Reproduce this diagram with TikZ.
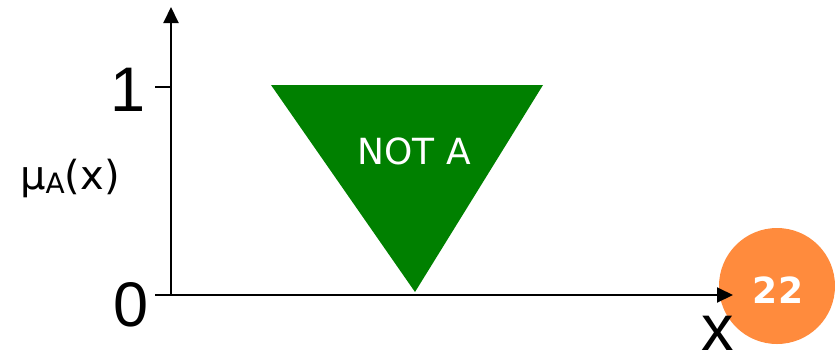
\documentclass[tikz,border=0pt]{standalone}
\usepackage{fontspec}
\setmainfont{Liberation Sans}
\newfontfamily\dejavu{DejaVu Sans}
\usetikzlibrary{arrows.meta}
\definecolor{notagreen}{RGB}{0,128,0}
\definecolor{badgeorange}{RGB}{255,139,61}
\begin{document}
\begin{tikzpicture}[x=1pt,y=-1pt,
  axis/.style={line width=2pt,draw=black},
  axisarrow/.style={axis,-{Triangle[length=16pt,width=15pt]}},
  ticklab/.style={inner sep=0pt,font=\fontsize{63}{63}\selectfont},
  whitelab/.style={inner sep=0pt,text=white}]
\useasboundingbox (0,0) rectangle (835,354);
% badge
\node[circle,fill=badgeorange,minimum size=116pt,inner sep=0pt] (badge) at (777,286) {};
\node[whitelab,anchor=base,font=\dejavu\bfseries\fontsize{36}{36}\selectfont] (badgetxt) at (778,303) {22};
% triangle
\coordinate (tl) at (271,85);
\coordinate (tr) at (543,85);
\coordinate (tb) at (415,292);
\fill[notagreen] (tl) -- (tr) -- (tb) -- cycle;
\node[whitelab,anchor=base,font=\dejavu\fontsize{36}{36}\selectfont] (nota) at (414,164) {NOT A};
% axes
\coordinate (O) at (171,295);
\coordinate (ytop) at (171,7);
\coordinate (xend) at (733,295);
\coordinate (t1) at (171,87);
\coordinate (t1l) at (155,87);
\coordinate (t0l) at (155,295);
\draw[axisarrow] (O) -- (ytop);
\draw[axisarrow] (t0l) -- (xend);
\draw[axis] (t1l) -- (t1);
% labels
\node[ticklab] (one) at (128,89.5) {1};
\node[ticklab] (zero) at (131,304.5) {0};
\node[inner sep=0pt,anchor=north,font=\fontsize{65}{65}\selectfont] (xlab) at (718,316) {x};
\node[inner sep=0pt,anchor=base west,font=\dejavu\fontsize{40}{40}\selectfont] (mu) at (20,189)
  {μ\raisebox{-4pt}{\fontsize{28}{28}\selectfont A}(x)};
\end{tikzpicture}
\end{document}
